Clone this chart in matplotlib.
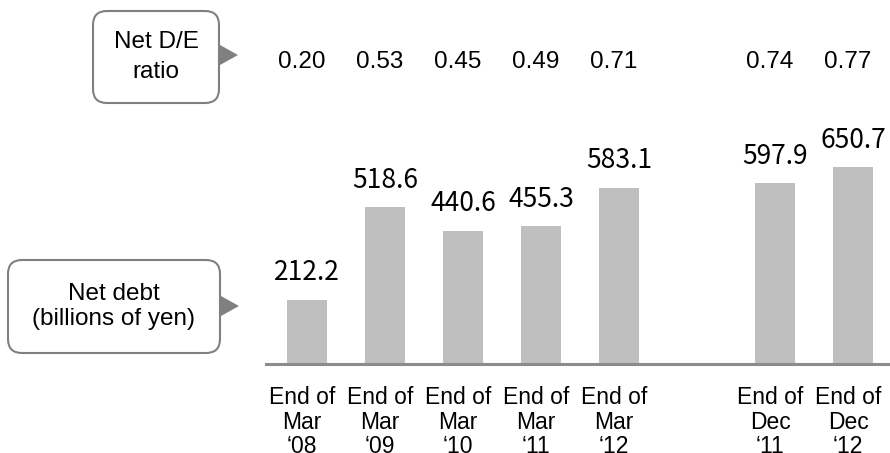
import matplotlib
matplotlib.use("Agg")
import matplotlib.pyplot as plt
from matplotlib.patches import FancyBboxPatch, Polygon
import matplotlib.transforms as mtransforms

# data
periods = ["End of\nMar\n\u201808", "End of\nMar\n\u201809", "End of\nMar\n\u201810",
           "End of\nMar\n\u201811", "End of\nMar\n\u201812", "End of\nDec\n\u201811",
           "End of\nDec\n\u201812"]
positions = [0, 1, 2, 3, 4, 6, 7]
net_debt = [212.2, 518.6, 440.6, 455.3, 583.1, 597.9, 650.7]
de_ratio = [0.20, 0.53, 0.45, 0.49, 0.71, 0.74, 0.77]

W, H = 890, 453
fig = plt.figure(figsize=(W / 100, H / 100), dpi=100)

# main bar axes (pixel layout: left 266, baseline 364)
ax = fig.add_axes([266 / W, (H - 364) / H, (W - 266) / W, 364 / H])
ax.bar(positions, net_debt, width=0.51, color="#bfbfbf", zorder=2)
ax.set_xlim(-0.526, 7.474)
ax.set_ylim(0, 1205)
for side in ["top", "right", "left"]:
    ax.spines[side].set_visible(False)
ax.spines["bottom"].set_color("#8c8c8c")
ax.spines["bottom"].set_linewidth(2.2)
ax.set_yticks([])
ax.set_xticks(positions)
ax.set_xticklabels(periods, family="Liberation Sans", fontsize=16.5,
                   linespacing=1.08)
ax.tick_params(axis="x", length=0, pad=16)
shift = mtransforms.ScaledTranslation(-5 / 100, 0, fig.dpi_scale_trans)
for lab in ax.get_xticklabels():
    lab.set_transform(lab.get_transform() + shift)

for x, v in zip(positions, net_debt):
    ax.annotate(f"{v:.1f}", (x, v), xytext=(0, 14), textcoords="offset points",
                ha="center", va="baseline", fontsize=19,
                family="Noto Sans CJK JP", color="black")

# D/E ratio row
trans = mtransforms.blended_transform_factory(ax.transData, fig.transFigure)
for x, r in zip(positions, de_ratio):
    ax.text(x - 0.07, (H - 68) / H, f"{r:.2f}", transform=trans, ha="center",
            va="baseline", fontsize=17.5, family="Liberation Sans")

# overlay for the callout boxes, in pixels
ov = fig.add_axes([0, 0, 1, 1], zorder=-1)
ov.set_xlim(0, W)
ov.set_ylim(H, 0)
ov.axis("off")


def callout(x0, y0, x1, y1, tip_y, label, ls):
    box = FancyBboxPatch((x0 + 12, y0 + 12), (x1 - x0) - 24, (y1 - y0) - 24,
                         boxstyle="round,pad=12,rounding_size=14",
                         facecolor="white", edgecolor="#808080", linewidth=1.5)
    ov.add_patch(box)
    ov.add_patch(Polygon([(x1 + 1, tip_y - 10), (x1 + 19, tip_y), (x1 + 1, tip_y + 10)],
                         closed=True, facecolor="#808080", edgecolor="none"))
    ov.text((x0 + x1) / 2, (y0 + y1) / 2, label, ha="center", va="center",
            fontsize=17.5, family="Liberation Sans", linespacing=ls)


callout(93, 11, 219, 103, 55, "Net D/E\nratio", 1.45)
callout(8, 260, 220, 353, 306, "Net debt\n(billions of yen)", 1.15)

fig.savefig("out.png", dpi=100)
